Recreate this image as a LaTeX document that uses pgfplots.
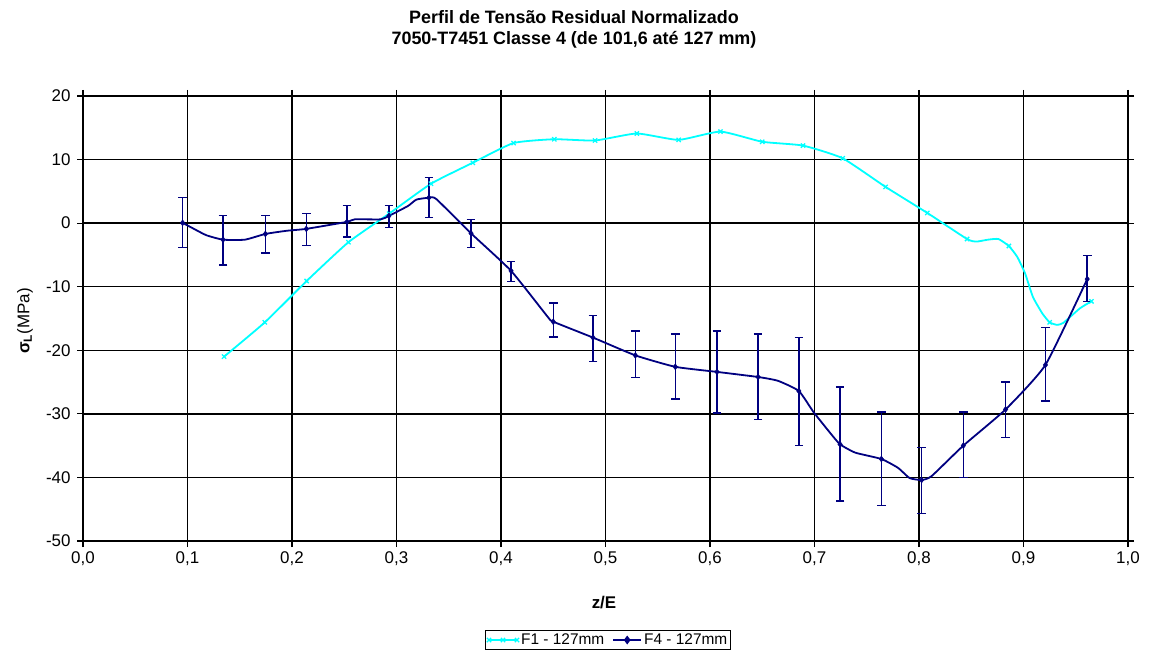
\documentclass[border=0pt]{standalone}
\usepackage{fontspec}
\setmainfont{Liberation Sans}
\usepackage{pgfplots}
\pgfplotsset{compat=1.18}
\usepackage{pgfplotstable}

\definecolor{fone}{RGB}{0,255,255}
\definecolor{ffour}{RGB}{0,0,128}

% F1 - 127mm (markers on rows 1-19, 23, 28, 32)
\pgfplotstableread{
x      y
0.135  -21.0
0.174  -15.6
0.214  -9.1
0.254  -3.0
0.293  1.5
0.333  6.2
0.373  9.5
0.412  12.6
0.451  13.2
0.490  13.0
0.530  14.1
0.570  13.1
0.610  14.4
0.650  12.8
0.689  12.2
0.727  10.2
0.768  5.7
0.808  1.6
0.846  -2.5
0.855  -2.9
0.866  -2.6
0.876  -2.5
0.886  -3.6
0.894  -5.3
0.9015 -7.9
0.909  -11.6
0.918  -14.2
0.925  -15.6
0.932  -16.0
0.938  -15.7
0.954  -13.4
0.965  -12.3
}\fone

% F4 - 127mm, line
\pgfplotstableread{
x      y
0.0953 0.05
0.105  -0.8
0.118  -1.9
0.134  -2.6
0.155  -2.6
0.1745 -1.7
0.195  -1.2
0.2137 -0.9
0.2526 0.2
0.260  0.6
0.285  0.6
0.2928 1.15
0.311  2.7
0.319  3.7
0.331  4.0
0.338  3.8
0.3713 -1.6
0.4096 -7.5
0.445  -14.8
0.450  -15.5
0.488  -18.0
0.5286 -20.8
0.5668 -22.6
0.6067 -23.4
0.646  -24.2
0.665  -24.8
0.685  -26.4
0.699  -29.7
0.715  -33.0
0.7245 -34.8
0.739  -36.1
0.764  -37.1
0.780  -38.5
0.791  -40.1
0.8025 -40.4
0.812  -39.8
0.8424 -35.0
0.8829 -29.3
0.921  -22.3
0.961  -8.8
}\ffourline

% F4 - 127mm, measured points with error bars
\pgfplotstableread{
x      y      ep   em
0.0953 0.05   3.95 3.85
0.134  -2.6   3.8  4.0
0.1745 -1.7   2.9  3.0
0.2137 -0.9   2.4  2.6
0.2526 0.2    2.6  2.4
0.2928 1.15   1.65 1.85
0.331  4.0    3.2  3.1
0.3713 -1.6   2.2  2.2
0.4096 -7.5   1.5  1.7
0.450  -15.5  2.9  2.4
0.488  -18.0  3.5  3.8
0.5286 -20.8  3.8  3.5
0.5668 -22.6  5.2  5.1
0.6067 -23.4  6.4  6.5
0.646  -24.2  6.8  6.7
0.685  -26.4  8.4  8.6
0.7245 -34.8  9.0  8.9
0.764  -37.1  7.4  7.3
0.8025 -40.4  5.1  5.3
0.8424 -35.0  5.3  5.0
0.8829 -29.3  4.3  4.4
0.921  -22.3  5.9  5.7
0.961  -8.8   3.7  3.5
}\ffourpts

\begin{document}
\begin{tikzpicture}
\path[use as bounding box] (0,0) rectangle (1153bp,652bp);
\begin{axis}[
  at={(83bp,111bp)}, anchor=south west,
  scale only axis, width=1045bp, height=445bp,
  xmin=0, xmax=1, ymin=-50, ymax=20,
  xtick={0,0.1,...,1.0}, ytick={-50,-40,...,20},
  grid=major,
  major grid style={black, line width=1.3bp},
  axis line style={black, line width=1.3bp},
  tick style={black, line width=1.2bp},
  tick align=outside, major tick length=6bp,
  xticklabel style={/pgf/number format/fixed, /pgf/number format/fixed zerofill,
    /pgf/number format/precision=1, /pgf/number format/use comma, yshift=-1bp},
  yticklabel style={xshift=-3bp},
  /pgf/number format/assume math mode=true,
  ticklabel style={font=\fontsize{17}{19}\selectfont},
  legend style={at={(0.5025,-0.2225)}, anchor=center, legend columns=2,
    draw=black, line width=1bp, font=\fontsize{15.5}{17}\selectfont,
    inner sep=1.5bp, /tikz/every even column/.append style={column sep=6bp}},
  legend image code/.code={
    \draw[mark repeat=2, mark phase=2, #1] plot coordinates {(0bp,0bp) (14bp,0bp) (28bp,0bp)};},
  legend cell align=left,
]
\addplot[fone, line width=1.8bp, smooth, tension=0.3, mark=x, mark size=3bp,
  mark indices={1,2,3,4,5,6,7,8,9,10,11,12,13,14,15,16,17,18,19,23,28,32},
  mark options={line width=1.3bp, solid}] table[x=x,y=y] {\fone};
\addlegendentry{F1 - 127mm}
\addplot[ffour, line width=1.8bp, smooth, tension=0.3, no marks, forget plot] table[x=x,y=y] {\ffourline};
\addplot[ffour, only marks, mark=diamond*, mark size=3bp, forget plot,
  error bars/.cd, y dir=both, y explicit, error mark=|,
  error bar style={ffour, line width=1.5bp},
  error mark options={ffour, mark size=4.3bp, line width=1.5bp}]
  table[x=x, y=y, y error plus=ep, y error minus=em] {\ffourpts};
\addlegendimage{ffour, line width=1.8bp, mark=diamond*, mark size=3bp}
\addlegendentry{F4 - 127mm}
\end{axis}
\node[font=\bfseries\fontsize{18}{20}\selectfont, anchor=base] at (574bp,628bp) {Perfil de Tensão Residual Normalizado};
\node[font=\bfseries\fontsize{18}{20}\selectfont, anchor=base] at (574bp,607bp) {7050-T7451 Classe 4 (de 101,6 até 127 mm)};
\node[font=\bfseries\fontsize{17}{19}\selectfont] at (604bp,49bp) {z/E};
\node[rotate=90, font=\fontsize{17}{19}\selectfont] at (25bp,331bp) {{\bfseries σ\textsubscript{L}}(MPa)};
\end{tikzpicture}
\end{document}
